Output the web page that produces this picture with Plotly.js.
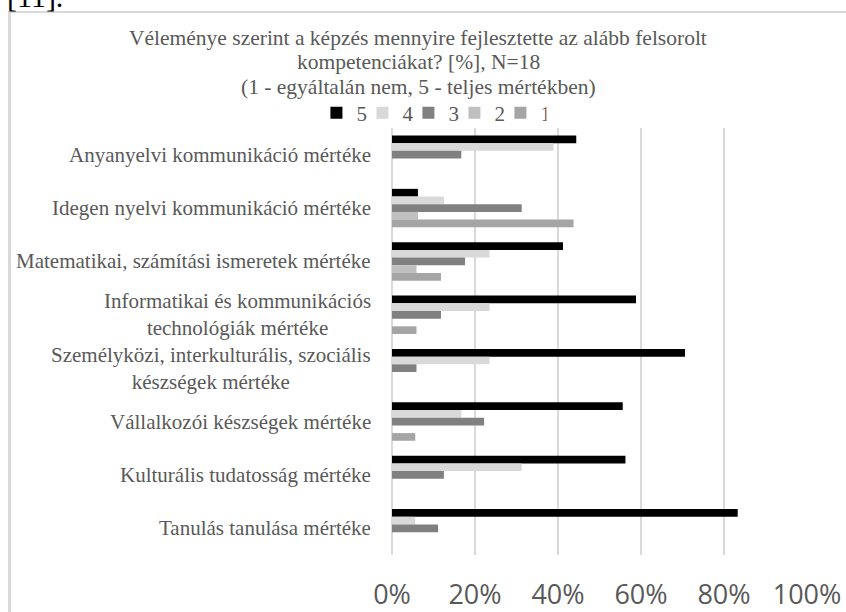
<!DOCTYPE html>
<html>
<head>
<meta charset="utf-8">
<script src="https://cdn.plot.ly/plotly-3.0.1.min.js"></script>
<style>
  html, body { margin: 0; padding: 0; background: #ffffff; overflow: hidden; }
  #frame { position: absolute; left: 8px; top: 11px; width: 900px; height: 700px;
           border-left: 3px solid #d9d9d9; border-top: 2px solid #d9d9d9; }
  #ref { position: absolute; left: 7px; top: -18px; font-family: "Liberation Serif", serif;
         font-size: 30px; line-height: 30px; color: #000; white-space: nowrap; }
  #chart { position: absolute; left: 0; top: 0; width: 846px; height: 612px; }
</style>
</head>
<body>
<div id="frame"></div>
<div id="ref">[11].</div>
<div id="chart"></div>
<script>
// Categories (top to bottom)
const categories = [
  "Anyanyelvi kommunikáció mértéke",
  "Idegen nyelvi kommunikáció mértéke",
  "Matematikai, számítási ismeretek mértéke",
  "Informatikai és kommunikációs<br>technológiák mértéke",
  "Személyközi, interkulturális, szociális<br>készségek mértéke",
  "Vállalkozói készségek mértéke",
  "Kulturális tudatosság mértéke",
  "Tanulás tanulása mértéke"
];
// Series values [%]
const seriesNames = ["5", "4", "3", "2", "1"];
const v5 = [44.4, 6.25, 41.2, 58.8, 70.6, 55.6, 56.25, 83.3];
const v4 = [38.9, 12.5, 23.5, 23.5, 23.5, 16.7, 31.25, 5.6];
const v3 = [16.7, 31.25, 17.6, 11.8, 5.9, 22.2, 12.5, 11.1];
const v2 = [0, 6.25, 5.9, 0, 0, 0, 0, 0];
const v1 = [0, 43.75, 11.8, 5.9, 0, 5.6, 0, 0];
const seriesValues = [v5, v4, v3, v2, v1];
const seriesColors = ["#000000", "#d9d9d9", "#808080", "#bfbfbf", "#a5a5a5"];
const xTickVals = [0, 20, 40, 60, 80, 100];
const xTickText = ["0%", "20%", "40%", "60%", "80%", "100%"];
const titleLines = [
  "Véleménye szerint a képzés mennyire fejlesztette az alább felsorolt",
  "kompetenciákat? [%], N=18",
  "(1 - egyáltalán nem, 5 - teljes mértékben)"
];

const serif = "Liberation Serif";
const gray = "#595959";

const traces = seriesNames.map((name, i) => ({
  type: "bar",
  orientation: "h",
  name: name,
  y: categories,
  x: seriesValues[i],
  marker: { color: seriesColors[i], line: { width: 0 } },
  hoverinfo: "skip"
}));

const annotations = categories.map(c => ({
  xref: "paper", yref: "y", x: 0, y: c,
  xanchor: "right", yanchor: "middle", xshift: -19,
  align: "center", showarrow: false, text: c,
  font: { family: serif, size: 21, color: gray }
}));

// Title lines (plot area: y from 128px to 555px, x from 392px to 807px)
const titleY = [38, 62, 87];
titleLines.forEach((t, i) => {
  annotations.push({
    xref: "paper", yref: "paper",
    x: (418 - 392) / 415, y: (555 - titleY[i]) / 427,
    xanchor: "center", yanchor: "middle", showarrow: false,
    text: t, font: { family: serif, size: 21.5, color: gray }
  });
});

const layout = {
  width: 846, height: 612,
  margin: { l: 392, r: 39, t: 128, b: 57, pad: 0 },
  paper_bgcolor: "rgba(0,0,0,0)",
  plot_bgcolor: "rgba(0,0,0,0)",
  barmode: "group",
  bargap: 0.28,
  bargroupgap: 0,
  showlegend: true,
  legend: {
    orientation: "h",
    x: 0.095, xanchor: "center",
    y: 1.035, yanchor: "middle",
    font: { family: serif, size: 21, color: gray },
    itemwidth: 30,
    entrywidth: 1,
    entrywidthmode: "pixels",
    traceorder: "normal",
    bgcolor: "rgba(0,0,0,0)"
  },
  xaxis: {
    range: [0, 100],
    tickvals: xTickVals,
    ticktext: xTickText,
    showgrid: true, gridcolor: "#d9d9d9", gridwidth: 2,
    zeroline: true, zerolinecolor: "#d9d9d9", zerolinewidth: 2,
    showline: false, ticks: "",
    ticklabelstandoff: 21,
    tickfont: { family: "Open Sans", size: 27, color: gray },
    fixedrange: true
  },
  yaxis: {
    type: "category",
    autorange: "reversed",
    showticklabels: false,
    showgrid: false, zeroline: false, showline: false, ticks: "",
    fixedrange: true
  },
  annotations: annotations
};

Plotly.newPlot("chart", traces, layout, { staticPlot: true, displayModeBar: false });
</script>
</body>
</html>
